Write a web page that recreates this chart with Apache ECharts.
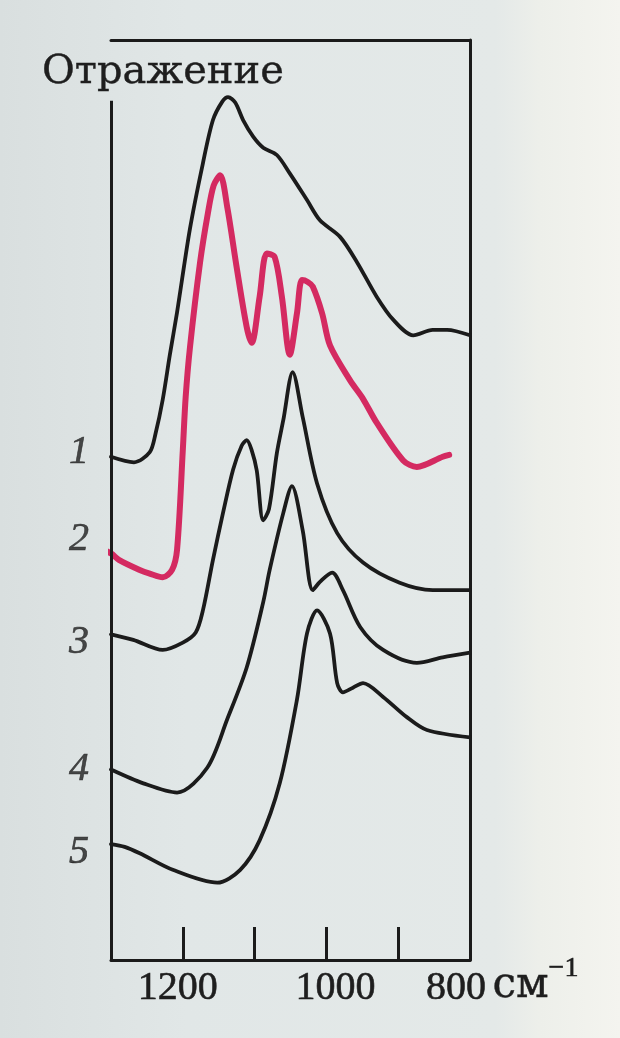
<!DOCTYPE html>
<html><head><meta charset="utf-8">
<script src="https://cdn.jsdelivr.net/npm/echarts/dist/echarts.min.js"></script>
<style>
html,body{margin:0;padding:0;}
body{width:620px;height:1038px;background:linear-gradient(90deg,#d9dfdf 0%,#e1e7e7 30%,#e4e9e8 80%,#edefea 87%,#f4f4ef 100%);}
#c{width:620px;height:1038px;}
</style></head>
<body><div id="c"></div>
<script>
// wavenumber (cm^-1), reflectance (arbitrary units, 0..100 of frame height)
const curve1 = [[1300,54.7],[1268,54.1],[1246,55.2],[1238,57.2],[1228,60.9],[1218,65.8],[1208,70.4],[1190,79.5],[1172,86.6],[1158,91.3],[1145,93.3],[1137,93.8],[1127,93.2],[1116,91.3],[1102,89.5],[1088,88.3],[1069,87.5],[1051,85.5],[1027,82.6],[1009,80.4],[981,78.6],[957,75.8],[930,72.1],[907,69.6],[879,67.9],[852,68.5],[832,68.5],[800,67.9]];
const curve2 = [[1318,44.8],[1300,44.2],[1289,43.5],[1260,42.4],[1246,42.0],[1228,41.6],[1215,42.4],[1208,44.6],[1200,55.4],[1196,61.2],[1190,66.6],[1176,75.8],[1165,81.2],[1157,84.2],[1148,85.3],[1138,81.8],[1125,75.3],[1111,68.8],[1104,67.1],[1093,72.1],[1083,76.8],[1072,76.4],[1062,72.1],[1051,65.8],[1041,70.3],[1034,73.9],[1026,73.7],[1019,73.2],[1006,70.3],[995,66.8],[967,63.0],[949,61.0],[930,58.4],[893,54.3],[874,53.6],[838,54.7],[829,54.9]];
const curve3 = [[1300,35.4],[1269,34.8],[1228,33.7],[1200,34.5],[1182,35.6],[1172,38.0],[1158,43.5],[1144,48.6],[1130,53.3],[1118,55.9],[1111,56.5],[1104,55.4],[1097,53.2],[1088,47.8],[1080,49.0],[1069,55.1],[1060,58.7],[1047,63.9],[1033,59.0],[1013,51.8],[985,46.4],[949,43.2],[898,41.0],[852,40.2],[800,40.2]];
const curve4 = [[1300,20.7],[1255,19.2],[1208,18.2],[1166,20.9],[1138,26.2],[1111,31.8],[1088,38.9],[1079,42.4],[1060,48.6],[1048,51.5],[1033,46.7],[1019,40.2],[1009,41.1],[992,42.1],[977,40.2],[953,36.2],[921,33.7],[874,32.3],[838,32.9],[800,33.4]];
const curve5 = [[1300,12.6],[1281,12.3],[1260,11.6],[1214,9.8],[1152,8.4],[1120,9.8],[1093,13.0],[1065,19.2],[1041,28.3],[1027,35.5],[1013,38.0],[995,35.5],[985,30.1],[977,29.1],[963,29.6],[949,30.1],[921,28.6],[888,26.4],[860,25.0],[800,24.2]];
const curveNames = ['1','2','3','4','5'];
const curveLabelLevels = [55.2,45.7,34.5,20.7,11.7];
const xTickValues = [1300,1200,1100,1000,900,800];
const xTickLabels = ['1200','1000','800'];
const yAxisTitle = 'Отражение';
const xUnit = 'см';
const xUnitPower = '−1';

const INK = '#1b1b1b';
const RED = '#d42a61';
const TXT = '#1e1e1e';
const chart = echarts.init(document.getElementById('c'), null, {renderer:'canvas'});
const curves = [curve1, curve2, curve3, curve4, curve5];
const lineSeries = curves.map((d, i) => ({
  type:'line', data:d, showSymbol:false, smooth:0.3, clip:false,
  lineStyle:{color: i===1 ? RED : INK, width: i===1 ? 6 : 3.8, cap:'round', join:'round'},
  z: 3
}));
lineSeries[0].markLine = {
  silent:true, symbol:'none', animation:false,
  lineStyle:{color:INK, width:3, type:'solid'}, label:{show:false},
  data:[[{coord:[1300,0]},{coord:[1300,93.4]}]]
};
const richLbl = {fontFamily:'Liberation Serif', fontSize:40, color:TXT, textBorderColor:TXT, textBorderWidth:0.6};
chart.setOption({
  animation:false,
  backgroundColor:'transparent',
  title:{text:yAxisTitle, left:42, top:53, padding:0,
    textStyle:{fontFamily:'DejaVu Serif', fontSize:40, fontWeight:'normal', color:TXT, textBorderColor:TXT, textBorderWidth:0.4}},
  grid:{left:111, right:150, top:40, bottom:78},
  xAxis:[{
    type:'value', min:800, max:1300, interval:100, inverse:true, position:'bottom',
    axisLine:{show:true, onZero:false, lineStyle:{color:INK, width:3}},
    axisTick:{show:true, inside:true, length:33, lineStyle:{color:INK, width:3},
      customValues: xTickValues},
    axisLabel:{margin:8, showMinLabel:true, showMaxLabel:true,
      formatter:v => {
        const s = String(v);
        if (!xTickLabels.includes(s)) return '';
        return s==='1200' ? '{a|'+s+'}' : s==='1000' ? '{b|'+s+'}' : '{c|'+s+'}';
      },
      rich:{
        a:Object.assign({padding:[0,10,0,0]}, richLbl),
        b:Object.assign({padding:[0,0,0,18]}, richLbl),
        c:Object.assign({padding:[0,28,0,0]}, richLbl)
      }},
    splitLine:{show:false},
    name:'{m|'+xUnit+'}{s|'+xUnitPower+'}', nameLocation:'start', nameGap:0,
    nameTextStyle:{verticalAlign:'middle',
      rich:{m:{fontFamily:'DejaVu Serif', fontSize:42, lineHeight:44, color:TXT, padding:[52,0,0,0], textBorderColor:TXT, textBorderWidth:0.4},
            s:{fontFamily:'Liberation Serif', fontSize:28, lineHeight:28, color:TXT, padding:[18,0,0,0], textBorderColor:TXT, textBorderWidth:0.6}}}
  },{
    type:'value', min:800, max:1300, inverse:true, position:'top',
    axisLine:{show:true, onZero:false, lineStyle:{color:INK, width:3}},
    axisTick:{show:false}, axisLabel:{show:false}, splitLine:{show:false}
  }],
  yAxis:[{
    type:'value', min:0, max:100, position:'left',
    axisLine:{show:false}, axisTick:{show:false}, axisLabel:{show:false}, splitLine:{show:false}
  },{
    type:'value', min:0, max:100, position:'right',
    axisLine:{show:true, onZero:false, lineStyle:{color:INK, width:3}},
    axisTick:{show:false}, axisLabel:{show:false}, splitLine:{show:false}
  }],
  series: lineSeries.concat([{
    type:'scatter', symbolSize:0, clip:false,
    data: curveLabelLevels.map((v,i)=>[1300, v, curveNames[i]]),
    label:{show:true, position:'left', distance:22, formatter:p=>p.data[2],
      fontFamily:'Liberation Serif', fontStyle:'italic', fontSize:40, color:TXT,
      textBorderColor:TXT, textBorderWidth:0.6},
    z:4
  }])
});
</script>
</body></html>
